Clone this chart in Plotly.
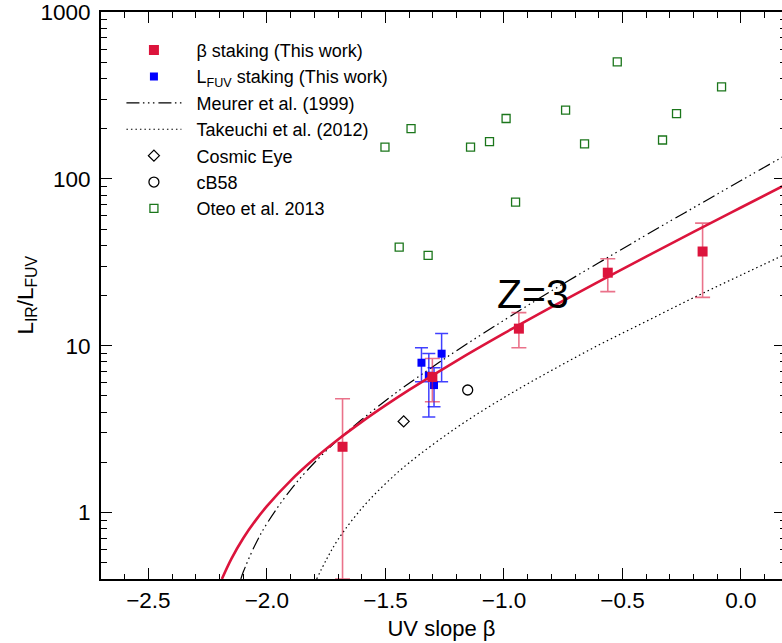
import math
import plotly.graph_objects as go

# ---------------- data ----------------
# beta-stacking (this work)
beta_stack = [-1.681, -1.302, -0.937, -0.562, -0.162]
irx_stack = [2.48, 6.50, 12.66, 27.4, 36.7]
irx_stack_hi = [4.81, 8.39, 15.8, 33.2, 54.3]
irx_stack_lo = [0.40, 4.62, 9.73, 21.1, 19.5]

# L_FUV stacking (this work)
beta_fuv = [-1.348, -1.317, -1.295, -1.263]
irx_fuv = [7.91, 6.61, 5.81, 8.96]
irx_fuv_hi = [9.73, 8.99, 7.38, 11.85]
irx_fuv_lo = [6.09, 3.74, 4.31, 6.09]

# best-fit curve (red)
fit_beta = [-2.19, -2.15, -2.10, -2.05, -2.00, -1.90, -1.80, -1.70, -1.60, -1.50,
            -1.40, -1.20, -1.00, -0.80, -0.60, -0.40, -0.20, 0.00, 0.20]
fit_irx = [0.40, 0.528, 0.702, 0.889, 1.093, 1.556, 2.10, 2.742, 3.497, 4.387,
           5.436, 8.127, 11.86, 17.05, 24.25, 34.23, 48.11, 67.35, 94.07]

# Meurer et al. (1999)
meurer_beta = [-2.11, -2.10, -2.05, -2.00, -1.90, -1.80, -1.70, -1.60, -1.50, -1.40,
               -1.20, -1.00, -0.80, -0.60, -0.40, -0.20, 0.00, 0.20]
meurer_irx = [0.40, 0.44, 0.64, 0.86, 1.37, 1.99, 2.73, 3.61, 4.68, 5.96,
              9.34, 14.2, 21.3, 31.4, 46.1, 67.2, 97.7, 141.7]

# Takeuchi et al. (2012)
takeuchi_beta = [-1.79, -1.75, -1.70, -1.60, -1.50, -1.40, -1.20, -1.00, -0.80,
                 -0.60, -0.40, -0.20, 0.00, 0.20]
takeuchi_irx = [0.40, 0.52, 0.69, 1.06, 1.49, 1.99, 3.23, 4.89, 7.10,
                10.1, 14.0, 19.4, 26.5, 36.0]

# Cosmic Eye, cB58
cosmic_beta = [-1.423]
cosmic_irx = [3.52]
cb58_beta = [-1.153]
cb58_irx = [5.43]

# Oteo et al. 2013
oteo_beta = [-1.502, -1.442, -1.392, -1.320, -1.141, -1.061, -0.991, -0.951,
             -0.740, -0.660, -0.522, -0.331, -0.272, -0.082]
oteo_irx = [155, 39.0, 200, 34.8, 155, 167, 230, 72.6,
            258, 162, 503, 171, 246, 356]

x_ticks = [-2.5, -2.0, -1.5, -1.0, -0.5, 0.0]
x_ticktext = ["\u22122.5", "\u22122.0", "\u22121.5", "\u22121.0", "\u22120.5", "0.0"]
y_ticks = [1, 10, 100, 1000]
y_ticktext = ["1", "10", "100", "1000"]
y_minor = [0.4, 0.5, 0.6, 0.7, 0.8, 0.9, 2, 3, 4, 5, 6, 7, 8, 9,
           20, 30, 40, 50, 60, 70, 80, 90, 200, 300, 400, 500, 600, 700, 800, 900]

# ---------------- figure ----------------
FONT = "Liberation Sans, Arial, Helvetica, sans-serif"
RED = "#DC143C"
BLUE = "#0000FF"
GREEN = "#1b761b"
PAD = "\u00a0\u00a0"

fig = go.Figure()

fig.add_trace(go.Scatter(
    x=oteo_beta, y=oteo_irx, mode="markers", name=PAD + "Oteo et al. 2013",
    marker=dict(symbol="square-open", size=8, color=GREEN, line=dict(width=1.3)),
    legendrank=7))

fig.add_trace(go.Scatter(
    x=takeuchi_beta, y=takeuchi_irx, mode="lines", name=PAD + "Takeuchi et al. (2012)",
    line=dict(color="black", width=1.2, dash="1.5px,3px", shape="spline"),
    legendrank=4))

fig.add_trace(go.Scatter(
    x=meurer_beta, y=meurer_irx, mode="lines", name=PAD + "Meurer et al. (1999)",
    line=dict(color="black", width=1.2, shape="spline",
              dash="13px,3.5px,1.5px,3.5px,1.5px,3.5px,1.5px,4px"),
    legendrank=3))

fig.add_trace(go.Scatter(
    x=cosmic_beta, y=cosmic_irx, mode="markers", name=PAD + "Cosmic Eye",
    marker=dict(symbol="diamond-open", size=8.5, color="black", line=dict(width=1.3)),
    legendrank=5))

fig.add_trace(go.Scatter(
    x=cb58_beta, y=cb58_irx, mode="markers", name=PAD + "cB58",
    marker=dict(symbol="circle-open", size=10, color="black", line=dict(width=1.3)),
    legendrank=6))

fig.add_trace(go.Scatter(
    x=beta_fuv, y=irx_fuv, mode="markers",
    name=PAD + "L<sub>FUV</sub> staking (This work)",
    marker=dict(symbol="square", size=8, color=BLUE),
    error_y=dict(type="data", symmetric=False,
                 array=[h - v for h, v in zip(irx_fuv_hi, irx_fuv)],
                 arrayminus=[v - l for v, l in zip(irx_fuv, irx_fuv_lo)],
                 color="rgba(0,0,255,0.75)", thickness=1.5, width=6.5),
    legendrank=2))

fig.add_trace(go.Scatter(
    x=fit_beta, y=fit_irx, mode="lines", showlegend=False,
    line=dict(color=RED, width=2.6, shape="spline")))

fig.add_trace(go.Scatter(
    x=beta_stack, y=irx_stack, mode="markers", name=PAD + "\u03b2 staking (This work)",
    marker=dict(symbol="square", size=10, color=RED),
    error_y=dict(type="data", symmetric=False,
                 array=[h - v for h, v in zip(irx_stack_hi, irx_stack)],
                 arrayminus=[v - l for v, l in zip(irx_stack, irx_stack_lo)],
                 color="rgba(220,20,60,0.6)", thickness=1.6, width=7.5),
    legendrank=1))

# empty trace to carry the right-hand tick axis
fig.add_trace(go.Scatter(x=[None], y=[None], yaxis="y2", showlegend=False,
                         hoverinfo="skip"))

fig.add_annotation(x=-0.876, y=math.log10(20.5), text="Z=3", showarrow=False,
                   font=dict(family=FONT, size=41, color="black"),
                   xanchor="center", yanchor="middle")

# y-axis title placed as a rotated annotation
fig.add_annotation(xref="paper", yref="paper", x=-0.11, y=0.5,
                   text="L<sub>IR</sub>/L<sub>FUV</sub>", textangle=-90,
                   showarrow=False, xanchor="center", yanchor="middle",
                   font=dict(family=FONT, size=22.5, color="black"))

fig.update_layout(
    width=782, height=643,
    margin=dict(l=101, r=0, t=12, b=64),
    paper_bgcolor="white", plot_bgcolor="white",
    font=dict(family=FONT, color="black"),
    showlegend=True,
    legend=dict(x=0.03, y=0.965, xanchor="left", yanchor="top",
                bgcolor="rgba(0,0,0,0)", borderwidth=0,
                font=dict(family=FONT, size=18, color="black"),
                itemwidth=55, tracegroupgap=0),
    xaxis=dict(
        range=[-2.7, 0.173], tickvals=x_ticks, ticktext=x_ticktext,
        ticks="inside", ticklen=11, tickwidth=1.4, tickcolor="black",
        showline=True, linewidth=2, linecolor="black", mirror="ticks",
        showgrid=False, zeroline=False, ticklabeloverflow="allow",
        tickfont=dict(family=FONT, size=22.5, color="black"),
        minor=dict(ticks="inside", ticklen=5.5, tickwidth=1.2, tickcolor="black",
                   dtick=0.1, tick0=0, showgrid=False),
        title=dict(text="UV slope \u03b2", font=dict(family=FONT, size=22, color="black"),
                   standoff=9),
    ),
    yaxis=dict(
        type="log", range=[math.log10(0.4), 3], tickvals=y_ticks, ticktext=y_ticktext,
        ticks="inside", ticklen=11, tickwidth=1.4, tickcolor="black",
        showline=True, linewidth=2, linecolor="black", mirror=False,
        showgrid=False, zeroline=False, ticklabelstandoff=4,
        ticklabeloverflow="allow",
        tickfont=dict(family=FONT, size=22.5, color="black"),
        minor=dict(ticks="inside", ticklen=5.5, tickwidth=1.2, tickcolor="black",
                   tickmode="array", tickvals=y_minor, showgrid=False),
    ),
    yaxis2=dict(
        type="log", range=[math.log10(0.4), 3], overlaying="y", side="right",
        tickvals=y_ticks, showticklabels=False, ticks="inside", ticklen=8,
        tickwidth=1.4, tickcolor="black", showline=False, showgrid=False,
        zeroline=False,
        minor=dict(ticks="inside", ticklen=2.5, tickwidth=1.2, tickcolor="black",
                   tickmode="array", tickvals=y_minor, showgrid=False),
    ),
)

fig.write_html("out.html")
